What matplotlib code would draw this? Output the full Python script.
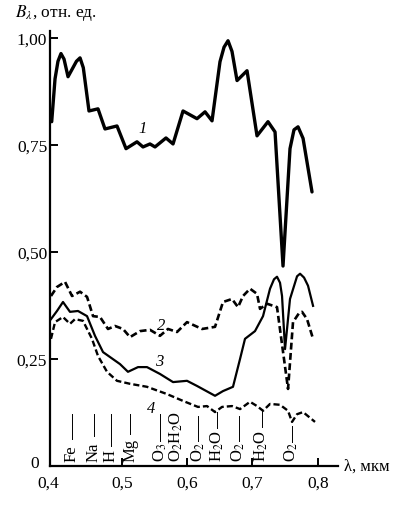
import numpy as np
import matplotlib
matplotlib.use("Agg")
import matplotlib.pyplot as plt

plt.rcParams["font.family"] = ["Liberation Serif", "DejaVu Serif"]
plt.rcParams["mathtext.fontset"] = "stix"

# curve 1 (solid, thick)
wl1 = [0.3926, 0.3977, 0.4022, 0.4068, 0.4115, 0.4176, 0.4305, 0.436, 0.441, 0.4467,
       0.4497, 0.4635, 0.4742, 0.4926, 0.5064, 0.5232, 0.5324, 0.5431, 0.5508, 0.5676,
       0.5784, 0.5937, 0.6151, 0.6274, 0.6381, 0.6503, 0.6565, 0.6626, 0.6687, 0.6764,
       0.6917, 0.707, 0.7238, 0.7346, 0.7468, 0.7575, 0.7636, 0.7698, 0.7775, 0.7912]
b1 = [0.804, 0.904, 0.945, 0.963, 0.950, 0.909, 0.945, 0.953, 0.930, 0.864,
      0.829, 0.834, 0.787, 0.794, 0.741, 0.757, 0.745, 0.752, 0.745, 0.766,
      0.752, 0.829, 0.811, 0.827, 0.806, 0.944, 0.978, 0.993, 0.968, 0.900,
      0.923, 0.771, 0.804, 0.780, 0.467, 0.741, 0.785, 0.792, 0.765, 0.640]

# curve 2 (dashed)
wl2 = [0.3915, 0.4007, 0.413, 0.4237, 0.436, 0.4467, 0.4559, 0.4666, 0.4788, 0.4895,
       0.5018, 0.5125, 0.5278, 0.5431, 0.5584, 0.5707, 0.5845, 0.5998, 0.6228, 0.6427,
       0.6549, 0.6687, 0.6779, 0.6856, 0.6963, 0.707, 0.7116, 0.7223, 0.7376, 0.7545,
       0.7621, 0.7713, 0.7759, 0.7836, 0.7928]
b2 = [0.397, 0.418, 0.430, 0.397, 0.407, 0.395, 0.350, 0.348, 0.320, 0.327,
      0.320, 0.301, 0.315, 0.318, 0.304, 0.320, 0.313, 0.336, 0.320, 0.325,
      0.383, 0.390, 0.371, 0.397, 0.414, 0.402, 0.367, 0.379, 0.371, 0.180,
      0.336, 0.357, 0.360, 0.343, 0.297]

# curve 3 (solid)
wl3 = [0.3915, 0.4007, 0.4099, 0.4206, 0.4329, 0.4467, 0.4589, 0.4712, 0.4972, 0.5094,
       0.5248, 0.5385, 0.5584, 0.5784, 0.5998, 0.6151, 0.6427, 0.6549, 0.6702, 0.681,
       0.6886, 0.7039, 0.7162, 0.7269, 0.733, 0.7376, 0.7422, 0.7453, 0.7499, 0.7575,
       0.7683, 0.7729, 0.779, 0.7851, 0.7928]
b3 = [0.343, 0.362, 0.383, 0.360, 0.362, 0.350, 0.304, 0.266, 0.238, 0.220,
      0.231, 0.231, 0.215, 0.196, 0.199, 0.187, 0.164, 0.175, 0.185, 0.250,
      0.297, 0.315, 0.350, 0.414, 0.436, 0.442, 0.428, 0.397, 0.273, 0.390,
      0.443, 0.449, 0.440, 0.421, 0.374]

# curve 4 (dashed)
wl4 = [0.3915, 0.3977, 0.4099, 0.4206, 0.4283, 0.4405, 0.4543, 0.4635, 0.4773, 0.4926,
       0.5125, 0.5385, 0.5692, 0.5937, 0.6166, 0.6304, 0.6427, 0.6534, 0.6687, 0.681,
       0.6963, 0.707, 0.7162, 0.7269, 0.7422, 0.7545, 0.7606, 0.7683, 0.7775, 0.7958]
b4 = [0.297, 0.336, 0.348, 0.332, 0.343, 0.339, 0.297, 0.257, 0.220, 0.199,
      0.192, 0.185, 0.168, 0.152, 0.138, 0.140, 0.126, 0.138, 0.140, 0.133,
      0.150, 0.140, 0.129, 0.145, 0.143, 0.129, 0.103, 0.121, 0.126, 0.103]

# absorption / Fraunhofer line marks: label, position, marker top, marker bottom
line_names = ["Fe", "Na", "H", "Mg", r"O$_3$", r"O$_2$H$_2$O", r"O$_2$",
              r"H$_2$O", r"O$_2$", r"H$_2$O", r"O$_2$"]
line_pos = [0.423, 0.457, 0.483, 0.513, 0.559, 0.584, 0.617, 0.646, 0.679, 0.714, 0.760]
line_top = [0.121, 0.121, 0.121, 0.121, 0.121, None, 0.117, 0.126, 0.117, 0.128, 0.093]
line_bot = [0.063, 0.070, 0.047, 0.075, 0.058, None, 0.058, 0.088, 0.058, 0.091, 0.056]

xticks = [0.5, 0.6, 0.7, 0.8]
xticklabels = ["0,5", "0,6", "0,7", "0,8"]
yticks = [0.25, 0.5, 0.75, 1.0]
yticklabels = ["0,25", "0,50", "0,75", "1,00"]

fig = plt.figure(figsize=(4.0, 5.06), dpi=100)
ax = fig.add_axes([0.125, 0.077, 0.72, 0.86])

ax.plot(wl1, b1, color="black", lw=2.4, solid_joinstyle="round", solid_capstyle="round")
ax.plot(wl2, b2, color="black", lw=1.9, dashes=[2.6, 1.3])
ax.plot(wl3, b3, color="black", lw=1.6, solid_joinstyle="round")
ax.plot(wl4, b4, color="black", lw=1.7, dashes=[2.6, 1.3])

for name, x, top, bot in zip(line_names, line_pos, line_top, line_bot):
    if top is not None:
        ax.plot([x, x], [bot, top], color="black", lw=0.7)
    ax.text(x, 0.012, name, rotation=90, ha="center", va="bottom", fontsize=12)

ax.text(0.5325, 0.79, "1", fontsize=12, style="italic", ha="center", va="center")
ax.text(0.5600, 0.33, "2", fontsize=12, style="italic", ha="center", va="center")
ax.text(0.5580, 0.245, "3", fontsize=12, style="italic", ha="center", va="center")
ax.text(0.5447, 0.135, "4", fontsize=12, style="italic", ha="center", va="center")

ax.set_xlim(0.39, 0.831)
ax.set_ylim(0, 1.016)
ax.set_xticks(xticks)
ax.set_xticklabels(xticklabels)
ax.set_yticks(yticks)
ax.set_yticklabels(yticklabels)
ax.tick_params(axis="both", direction="in", length=6, width=1.4, labelsize=12.5)
ax.tick_params(axis="y", pad=2)
ax.tick_params(axis="x", pad=6)

for side in ["top", "right"]:
    ax.spines[side].set_visible(False)
for side in ["left", "bottom"]:
    ax.spines[side].set_linewidth(1.6)

ax.annotate("0", xy=(0.39, 0), xytext=(-11, 2), textcoords="offset points",
            ha="center", va="center", fontsize=12.5)
ax.annotate("0,4", xy=(0.39, 0), xytext=(-1, -12), textcoords="offset points",
            ha="center", va="center", fontsize=12.5)
ax.annotate("λ, мкм", xy=(1.0, 0), xycoords="axes fraction", xytext=(4, 0),
            textcoords="offset points", ha="left", va="center", fontsize=12)
fig.text(0.037, 0.975, r"$B_\lambda$, отн. ед.", ha="left", va="center", fontsize=12.5)

fig.savefig("out.png", dpi=100)
